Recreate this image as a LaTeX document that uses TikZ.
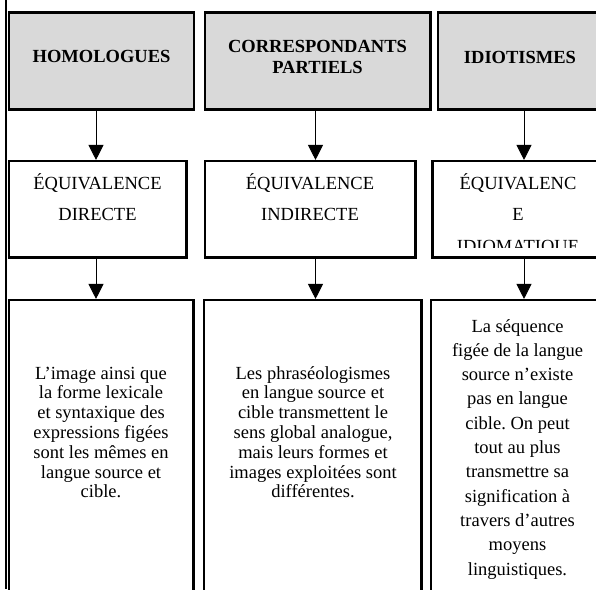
\documentclass[tikz,border=0pt]{standalone}
\usepackage{fontspec}
\setmainfont{Liberation Serif}
\frenchspacing
\usetikzlibrary{arrows.meta}
\definecolor{boxgray}{RGB}{217,217,217}
\tikzset{
  frame/.style={draw=black, line width=2.1pt, rectangle, inner sep=0pt},
  headbox/.style={frame, fill=boxgray},
  plainbox/.style={frame, fill=white},
  txt/.style={align=center, inner sep=0pt, anchor=base, text=black},
  arr/.style={line width=1pt, -{Triangle[width=15pt,length=15pt]}},
}
\newcommand{\fs}[1]{\fontsize{18.5}{#1}\selectfont}
\begin{document}
\begin{tikzpicture}[x=1pt,y=-1pt]
\clip (0,0) rectangle (596,589);
\fill[white] (0,0) rectangle (596,589);
% left rule
\draw[line width=2.1pt] (5.8,0) -- (5.8,589);
% top row
\node[headbox, minimum width=185pt, minimum height=97pt] (h1) at (101.5,61) {};
\node[headbox, minimum width=225.5pt, minimum height=97pt] (h2) at (317.75,61) {};
\node[headbox, minimum width=165pt, minimum height=97pt] (h3) at (520.5,61) {};
% middle row
\node[plainbox, minimum width=177.5pt, minimum height=96.5pt] (e1) at (97.75,209.25) {};
\node[plainbox, minimum width=210.5pt, minimum height=96.5pt] (e2) at (310.25,209.25) {};
\node[plainbox, minimum width=171pt, minimum height=96.5pt] (e3) at (518,209.25) {};
% bottom row
\node[plainbox, minimum width=184.5pt, minimum height=340pt] (d1) at (101.25,470) {};
\node[plainbox, minimum width=217.5pt, minimum height=340pt] (d2) at (312.75,470) {};
\node[plainbox, minimum width=173pt, minimum height=340pt] (d3) at (517.5,470) {};
% arrow axes
\coordinate (ax1) at (96,0);
\coordinate (ax2) at (315.5,0);
\coordinate (ax3) at (524,0);
% texts top row (anchor = baseline of last line)
\node[txt, font=\fs{21}\bfseries] (t1) at (101.5,62) {HOMOLOGUES};
\node[txt, font=\fs{21}\bfseries] (t2) at (317.5,73) {CORRESPONDANTS\\PARTIELS};
\node[txt, font=\fs{21}\bfseries] (t3) at (520,63) {IDIOTISMES};
% texts middle row
\node[txt, font=\fs{31.5}] (u1) at (97.5,220.5) {ÉQUIVALENCE\\DIRECTE};
\node[txt, font=\fs{31.5}] (u2) at (310,220.5) {ÉQUIVALENCE\\INDIRECTE};
\begin{scope}
\clip (434,162) rectangle (602,247);
\node[txt, font=\fs{31.5}] (u3) at (518,252) {ÉQUIVALENC\\E\\IDIOMATIQUE};
\end{scope}
% texts bottom row
\node[txt, font=\fs{19.8}] (v1) at (101,497.8) {L’image ainsi que\\la forme lexicale\\et syntaxique des\\expressions figées\\sont les mêmes en\\langue source et\\cible.};
\node[txt, font=\fs{19.8}] (v2) at (313,497.8) {Les phraséologismes\\en langue source et\\cible transmettent le\\sens global analogue,\\mais leurs formes et\\images exploitées sont\\différentes.};
\node[txt, font=\fs{24.3}] (v3) at (517.5,575) {La séquence\\figée de la langue\\source n’existe\\pas en langue\\cible. On peut\\tout au plus\\transmettre sa\\signification à\\travers d’autres\\moyens\\linguistiques.};
% connectors
\draw[arr] (h1.south -| ax1) -- (e1.north -| ax1);
\draw[arr] (h2.south -| ax2) -- (e2.north -| ax2);
\draw[arr] (h3.south -| ax3) -- (e3.north -| ax3);
\draw[arr] (e1.south -| ax1) -- (d1.north -| ax1);
\draw[arr] (e2.south -| ax2) -- (d2.north -| ax2);
\draw[arr] (e3.south -| ax3) -- (d3.north -| ax3);
\end{tikzpicture}
\end{document}
